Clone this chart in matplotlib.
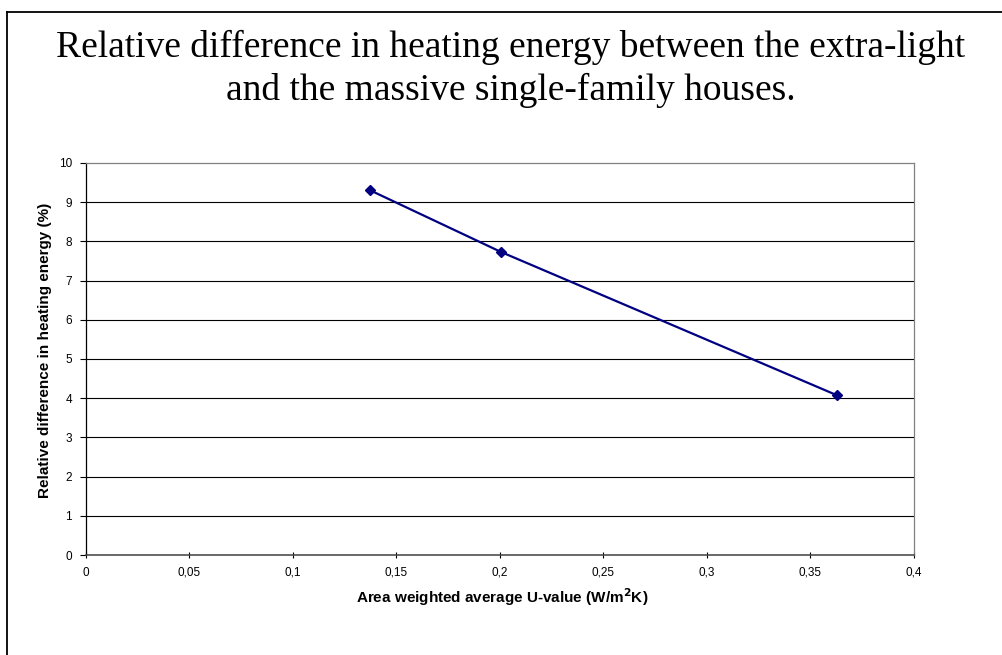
import matplotlib.pyplot as plt
from matplotlib.lines import Line2D

# data
u_value = [0.137, 0.2005, 0.363]
rel_diff = [9.31, 7.73, 4.07]

x_ticks = [0, 0.05, 0.1, 0.15, 0.2, 0.25, 0.3, 0.35, 0.4]
x_ticklabels = ['0', '0,05', '0,1', '0,15', '0,2', '0,25', '0,3', '0,35', '0,4']
y_ticks = list(range(0, 11))

W, H = 1003, 655
fig = plt.figure(figsize=(W / 100, H / 100), dpi=100)
fig.patch.set_facecolor('white')

# slide frame (only top and left edges visible)
fig.add_artist(Line2D([7.5 / W, 7.5 / W], [0, 1 - 11.5 / H], color='black', lw=1.3,
                      transform=fig.transFigure))
fig.add_artist(Line2D([7.5 / W, 1], [1 - 11.5 / H, 1 - 11.5 / H], color='black', lw=1.3,
                      transform=fig.transFigure))

# title in two lines
tfont = dict(family='Liberation Serif', fontsize=27, ha='center', va='baseline')
fig.text(511 / W, 1 - 57 / H, 'Relative difference in heating energy between the extra-light', **tfont)
fig.text(511 / W, 1 - 100 / H, 'and the massive single-family houses.', **tfont)

ax = fig.add_axes([86 / W, 1 - 555 / H, 828 / W, 392 / H])
ax.plot(u_value, rel_diff, color='#000080', lw=1.6, marker='D', markersize=5, zorder=3)

ax.set_xlim(0, 0.4)
ax.set_ylim(0, 10)
ax.set_xticks(x_ticks)
ax.set_xticklabels(x_ticklabels)
ax.set_yticks(y_ticks)
for y in y_ticks[1:-1]:
    ax.axhline(y, color='black', lw=0.8, zorder=1)

for side in ['top', 'right']:
    ax.spines[side].set_color('#808080')
    ax.spines[side].set_linewidth(0.9)
ax.spines['left'].set_color('black')
ax.spines['left'].set_linewidth(0.9)
ax.spines['bottom'].set_color('#404040')
ax.spines['bottom'].set_linewidth(1.1)

ax.tick_params(axis='y', direction='out', length=4, width=0.8, pad=6, labelsize=8.5,
               labelfontfamily='Liberation Sans')
ax.tick_params(axis='x', direction='inout', length=5, width=0.8, pad=6, labelsize=8.5,
               labelfontfamily='Liberation Sans')

fig.text(45 / W, 1 - 350 / H, 'Relative difference in heating energy (%)', rotation=90,
         ha='center', va='center', family='Liberation Sans', fontweight='bold', fontsize=11)
fig.text(502 / W, 1 - 597 / H, 'Area weighted average U-value (W/m$^\\mathbf{2}$K)',
         ha='center', va='center', family='Liberation Sans', fontweight='bold', fontsize=11)

fig.savefig('out.png', dpi=100)
